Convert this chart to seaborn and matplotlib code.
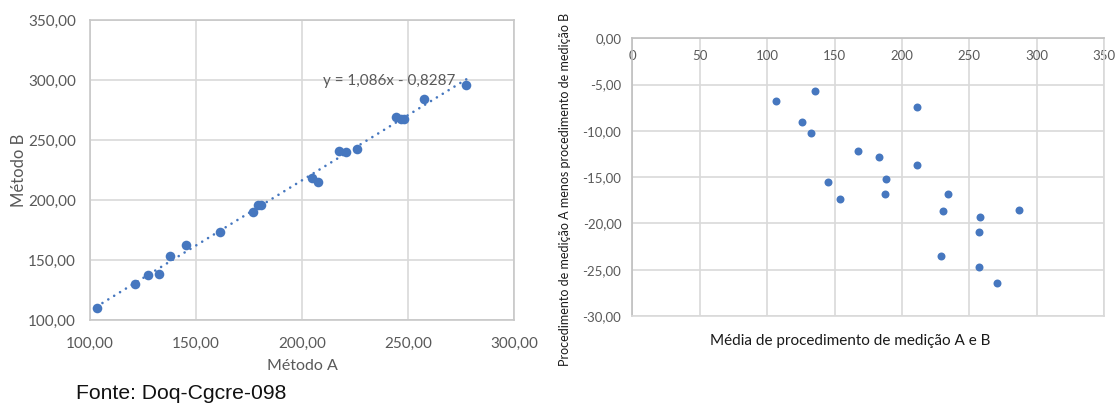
import numpy as np
import pandas as pd
import matplotlib
matplotlib.use("Agg")
import matplotlib.pyplot as plt
import seaborn as sns

# Paired results of the two measurement methods
metodo_a = [103.1, 132.5, 121.2, 127.4, 207.7, 161.2, 176.8, 204.6, 137.6, 180.6,
            145.2, 179.2, 226.0, 221.0, 277.5, 248.0, 246.9, 217.5, 244.5, 257.7]
metodo_b = [109.9, 138.1, 130.2, 137.6, 215.1, 173.4, 189.6, 218.2, 153.2, 195.8,
            162.6, 196.0, 242.8, 239.6, 296.1, 267.4, 267.9, 240.9, 269.3, 284.1]

# Bland-Altman coordinates: mean of A and B, and A minus B
media_ab = [106.5, 135.3, 125.7, 132.5, 211.4, 167.3, 183.2, 211.4, 145.4, 188.2,
            153.9, 187.6, 234.4, 230.3, 286.8, 257.7, 257.4, 229.2, 256.9, 270.9]
diferenca = [-6.77, -5.69, -9.00, -10.19, -7.38, -12.17, -12.79, -13.69, -15.52, -15.16,
             -17.32, -16.85, -16.85, -18.62, -18.55, -19.34, -20.96, -23.48, -24.71, -26.40]

# Linear trendline y = 1,086x - 0,8287
inclinacao = 1.086
intercepto = -0.8287
texto_tendencia = "y = 1,086x - 0,8287"

ticks_a = [100, 150, 200, 250, 300]
ticks_a_txt = ["100,00", "150,00", "200,00", "250,00", "300,00"]
ticks_b = [100, 150, 200, 250, 300, 350]
ticks_b_txt = ["100,00", "150,00", "200,00", "250,00", "300,00", "350,00"]
ticks_media = [0, 50, 100, 150, 200, 250, 300, 350]
ticks_media_txt = ["0", "50", "100", "150", "200", "250", "300", "350"]
ticks_dif = [0, -5, -10, -15, -20, -25, -30]
ticks_dif_txt = ["0,00", "-5,00", "-10,00", "-15,00", "-20,00", "-25,00", "-30,00"]

sns.set_theme(style="white")
plt.rcParams["font.family"] = ["Lato", "DejaVu Sans"]

AZUL = "#4677BF"
GRADE = "#D9D9D9"
CINZA_TXT = "#595959"

fig = plt.figure(figsize=(11.18, 4.03), dpi=100)
ax1 = fig.add_axes([0.0805, 0.2060, 0.3792, 0.7444])
ax2 = fig.add_axes([0.5657, 0.2159, 0.4217, 0.6891])

# ---- Left: Método A vs Método B with trendline ----
df1 = pd.DataFrame({"Método A": metodo_a, "Método B": metodo_b})
xs = np.array([min(metodo_a), max(metodo_a)])
ax1.plot(xs, inclinacao * xs + intercepto, color=AZUL, lw=1.9,
         linestyle=(0, (0.01, 2.6)), dash_capstyle="round", zorder=2)
sns.scatterplot(data=df1, x="Método A", y="Método B", ax=ax1, color=AZUL,
                s=48, linewidth=0, zorder=3)
ax1.set_xlim(100, 300)
ax1.set_ylim(100, 350)
ax1.set_xticks(ticks_a)
ax1.set_xticklabels(ticks_a_txt)
ax1.set_yticks(ticks_b)
ax1.set_yticklabels(ticks_b_txt)
ax1.grid(True, color=GRADE, lw=1.2)
ax1.set_axisbelow(True)
for sp in ax1.spines.values():
    sp.set_color("#C8C8C8")
    sp.set_linewidth(1.2)
ax1.tick_params(axis="both", length=0, labelsize=11, labelcolor=CINZA_TXT)
ax1.tick_params(axis="x", pad=12.5)
ax1.tick_params(axis="y", pad=10)
ax1.set_xlabel("Método A", fontsize=11.5, color=CINZA_TXT)
ax1.set_ylabel("Método B", fontsize=12, color=CINZA_TXT)
ax1.xaxis.set_label_coords(0.5, -0.13)
ax1.yaxis.set_label_coords(-0.1486, 0.5)
ax1.text(241.3, 299.5, texto_tendencia, fontsize=11, color=CINZA_TXT,
         ha="center", va="center", zorder=4)

# ---- Right: difference vs mean ----
df2 = pd.DataFrame({"Média": media_ab, "Diferença": diferenca})
sns.scatterplot(data=df2, x="Média", y="Diferença", ax=ax2, color=AZUL,
                s=33, linewidth=0, zorder=3)
ax2.set_xlim(0, 350)
ax2.set_ylim(-30, 0)
ax2.set_xticks(ticks_media)
ax2.set_xticklabels(ticks_media_txt)
ax2.set_yticks(ticks_dif)
ax2.set_yticklabels(ticks_dif_txt)
ax2.xaxis.set_ticks_position("top")
ax2.grid(True, color=GRADE, lw=1.2)
ax2.set_axisbelow(True)
for name, sp in ax2.spines.items():
    sp.set_color(GRADE)
    sp.set_linewidth(1.2)
ax2.spines["left"].set_color("#BFBFBF")
ax2.spines["top"].set_color("#BFBFBF")
ax2.tick_params(axis="both", length=0, labelsize=9.5, labelcolor=CINZA_TXT)
ax2.tick_params(axis="x", pad=-17, labeltop=True, labelbottom=False)
ax2.tick_params(axis="y", pad=8)
ax2.set_xlabel("Média de procedimento de medição A e B", fontsize=11, color="#1A1A1A")
ax2.set_ylabel("Procedimento de medição A menos procedimento de medição B",
               fontsize=9, color="#1A1A1A")
ax2.xaxis.set_label_position("bottom")
ax2.xaxis.set_label_coords(0.461, -0.065)
ax2.yaxis.set_label_coords(-0.130, 0.454)

fig.text(0.068, 0.0092, "Fonte: Doq-Cgcre-098", fontsize=15.2,
         family=["Liberation Sans", "DejaVu Sans"], color="#111111",
         ha="left", va="baseline")

fig.savefig("out.png", dpi=100, facecolor="white")
